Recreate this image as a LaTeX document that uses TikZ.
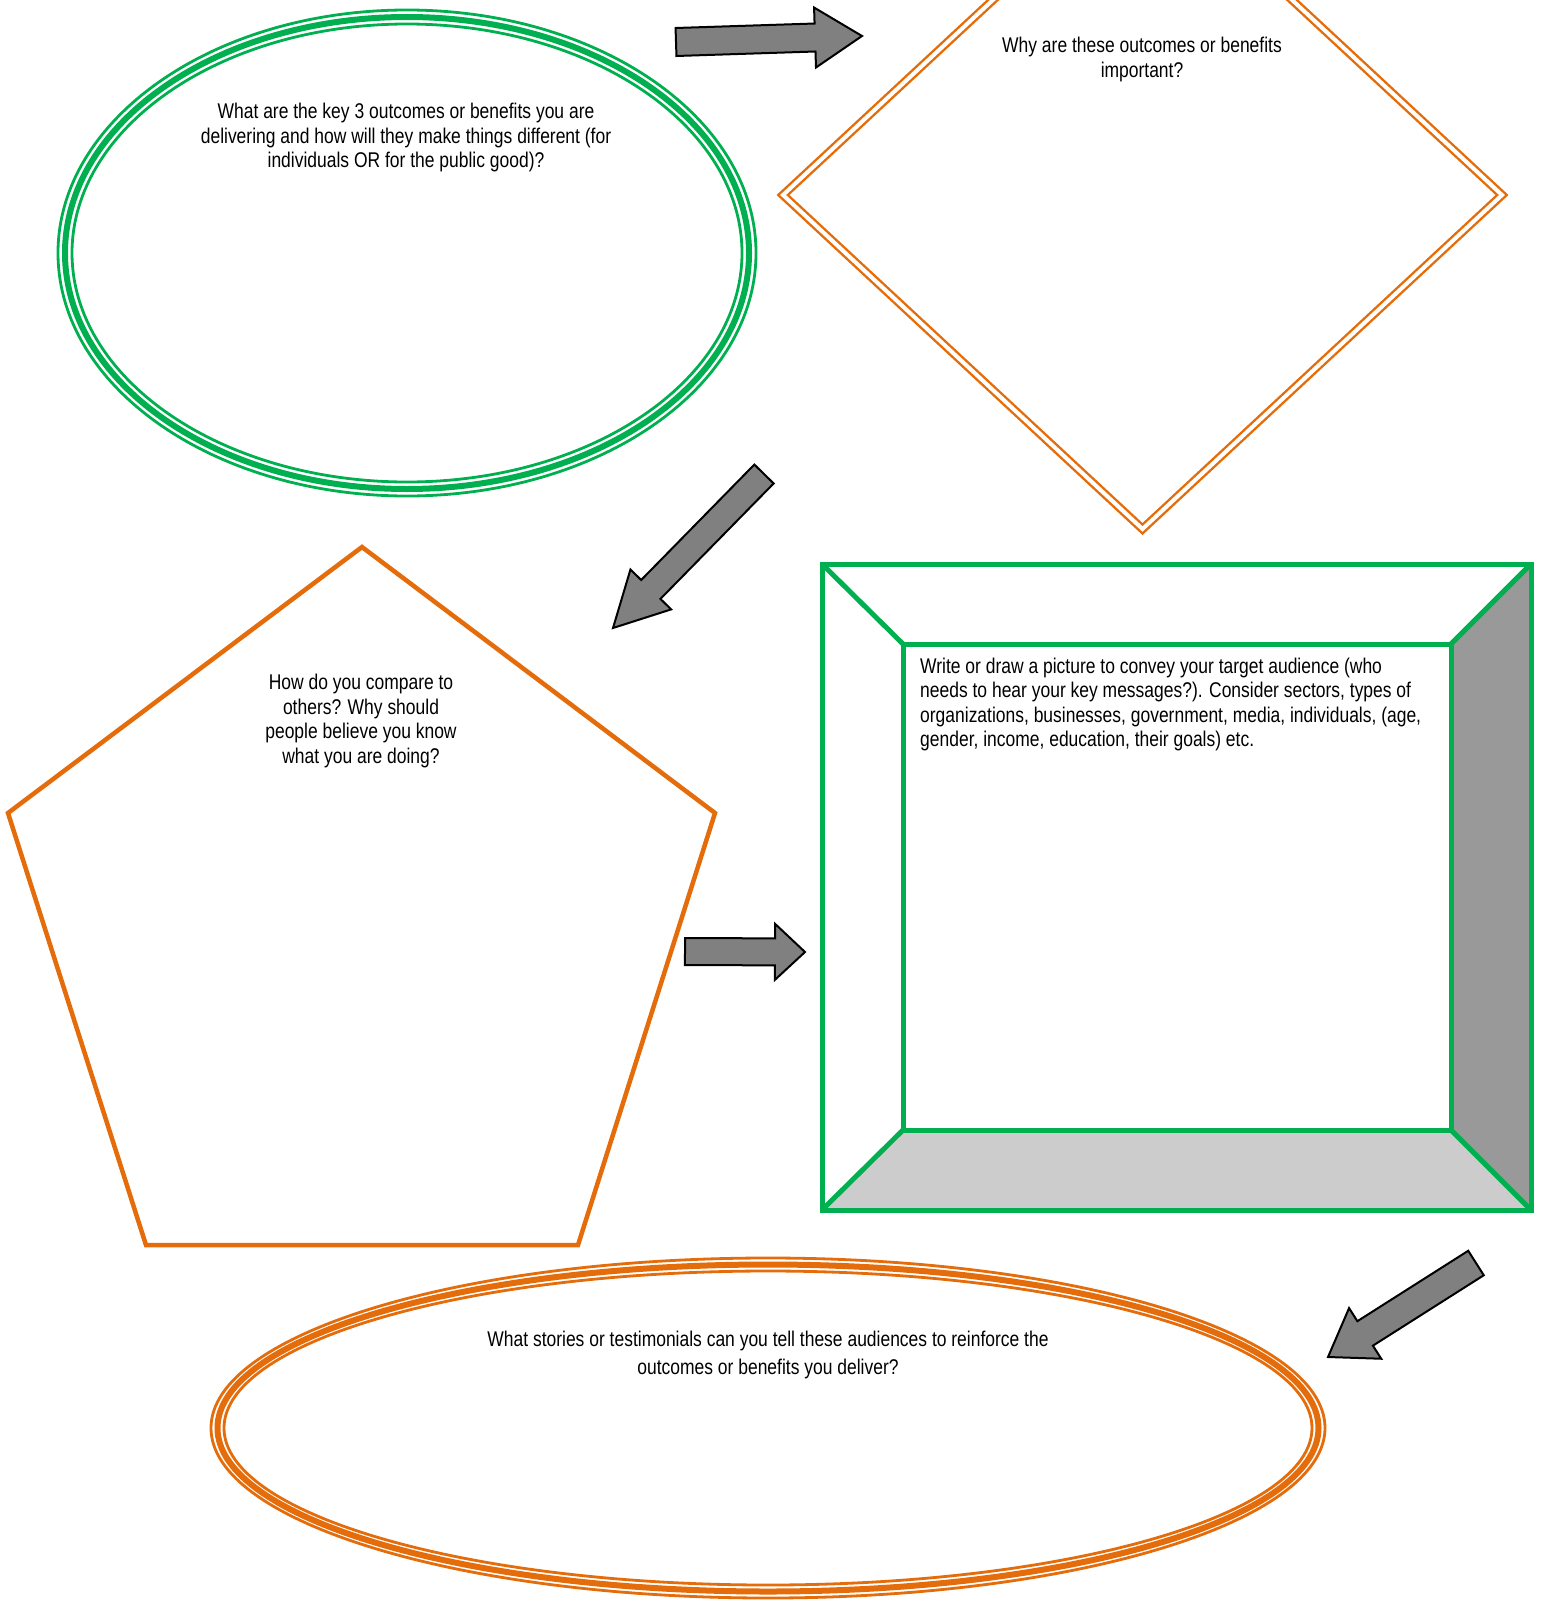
\documentclass[tikz,border=0pt]{standalone}
\usepackage{fontspec}
\setmainfont{Liberation Sans}[FakeStretch=0.82]
\usetikzlibrary{calc}
\definecolor{offgreen}{HTML}{00B050}
\definecolor{offorange}{HTML}{E46C0A}
\definecolor{arrowgray}{HTML}{808080}
\definecolor{darkside}{HTML}{999999}
\definecolor{lightside}{HTML}{CCCCCC}
\tikzset{
  blockarrowstyle/.style={fill=arrowgray, draw=black, line width=2pt, line join=miter},
  txt/.style={inner sep=0pt, font=\fontsize{21.3}{24.5}\selectfont, align=center},
  thinline/.style={line width=2.8pt},
  thickline/.style={line width=6pt},
}
\newcommand\blockarrow[5]{%
  \path ($(#2)!#5!(#1)$) coordinate (#1-h);
  \filldraw[blockarrowstyle] ($(#1)!#3!90:(#2)$) -- ($(#1-h)!#3!90:(#2)$) -- ($(#1-h)!#4!90:(#2)$) -- (#2) -- ($(#1-h)!#4!-90:(#2)$) -- ($(#1-h)!#3!-90:(#2)$) -- ($(#1)!#3!-90:(#2)$) -- cycle;}
\begin{document}
\begin{tikzpicture}[x=1pt,y=-1pt]
\useasboundingbox[fill=white] (0,0) rectangle (1544,1600);
\clip (0,0) rectangle (1544,1600);
% green triple ellipse
\draw[offgreen,thinline] (407,253) ellipse [x radius=349, y radius=243];
\draw[offgreen,thickline] (407,253) ellipse [x radius=342, y radius=236];
\draw[offgreen,thinline] (407,253) ellipse [x radius=335, y radius=229];
\node[txt] (t1) at (406,137.5) {What are the key 3 outcomes or benefits you are\\delivering and how will they make things different (for\\individuals OR for the public good)?};
% orange double diamond
\draw[offorange,line width=2.4pt,double=white,double distance=4pt,line join=miter] (783,195) -- (1142.5,-139) -- (1502,195) -- (1142.5,529) -- cycle;
\node[txt] (t2) at (1142,59.5) {Why are these outcomes or benefits\\important?};
% pentagon
\draw[offorange,line width=4.5pt,line join=miter] (362,547) -- (715,813) -- (578,1245) -- (146,1245) -- (8,813) -- cycle;
\node[txt] (t3) at (361,721) {How do you compare to\\others? Why should\\people believe you know\\what you are doing?};
% bevel box
\fill[darkside] (1531,564) -- (1531,1210) -- (1451,1130) -- (1451,644) -- cycle;
\fill[lightside] (822,1210) -- (1531,1210) -- (1451,1130) -- (903,1130) -- cycle;
\draw[offgreen,line width=5pt,line join=miter] (822,564) rectangle (1531,1210);
\draw[offgreen,line width=5pt,line join=miter] (903,644) rectangle (1451,1130);
\draw[offgreen,line width=5pt] (822,564) -- (903,644) (1531,564) -- (1451,644) (822,1210) -- (903,1130) (1531,1210) -- (1451,1130);
\node[txt,align=left,anchor=west] (t4) at (920,704.5) {Write or draw a picture to convey your target audience (who\\needs to hear your key messages?). Consider sectors, types of\\organizations, businesses, government, media, individuals, (age,\\gender, income, education, their goals) etc.};
% bottom orange triple ellipse
\draw[offorange,thinline] (768,1428) ellipse [x radius=557, y radius=170];
\draw[offorange,thickline] (768,1428) ellipse [x radius=550.5, y radius=163.5];
\draw[offorange,thinline] (768,1428) ellipse [x radius=544, y radius=157];
\node[txt,font=\fontsize{21.3}{28}\selectfont] (t5) at (768,1354.5) {What stories or testimonials can you tell these audiences to reinforce the\\outcomes or benefits you deliver?};
% arrows
\coordinate (a1) at (676,42); \coordinate (a1p) at (862,36);
\blockarrow{a1}{a1p}{14pt}{30pt}{47pt}
\coordinate (a2) at (764,474); \coordinate (a2p) at (613,628);
\blockarrow{a2}{a2p}{13.5pt}{28.5pt}{54pt}
\coordinate (a3) at (685,951.5); \coordinate (a3p) at (805,952);
\blockarrow{a3}{a3p}{13.5pt}{28pt}{30pt}
\coordinate (a4) at (1476,1263); \coordinate (a4p) at (1328,1357);
\blockarrow{a4}{a4p}{14.5pt}{30pt}{44pt}
\end{tikzpicture}
\end{document}
